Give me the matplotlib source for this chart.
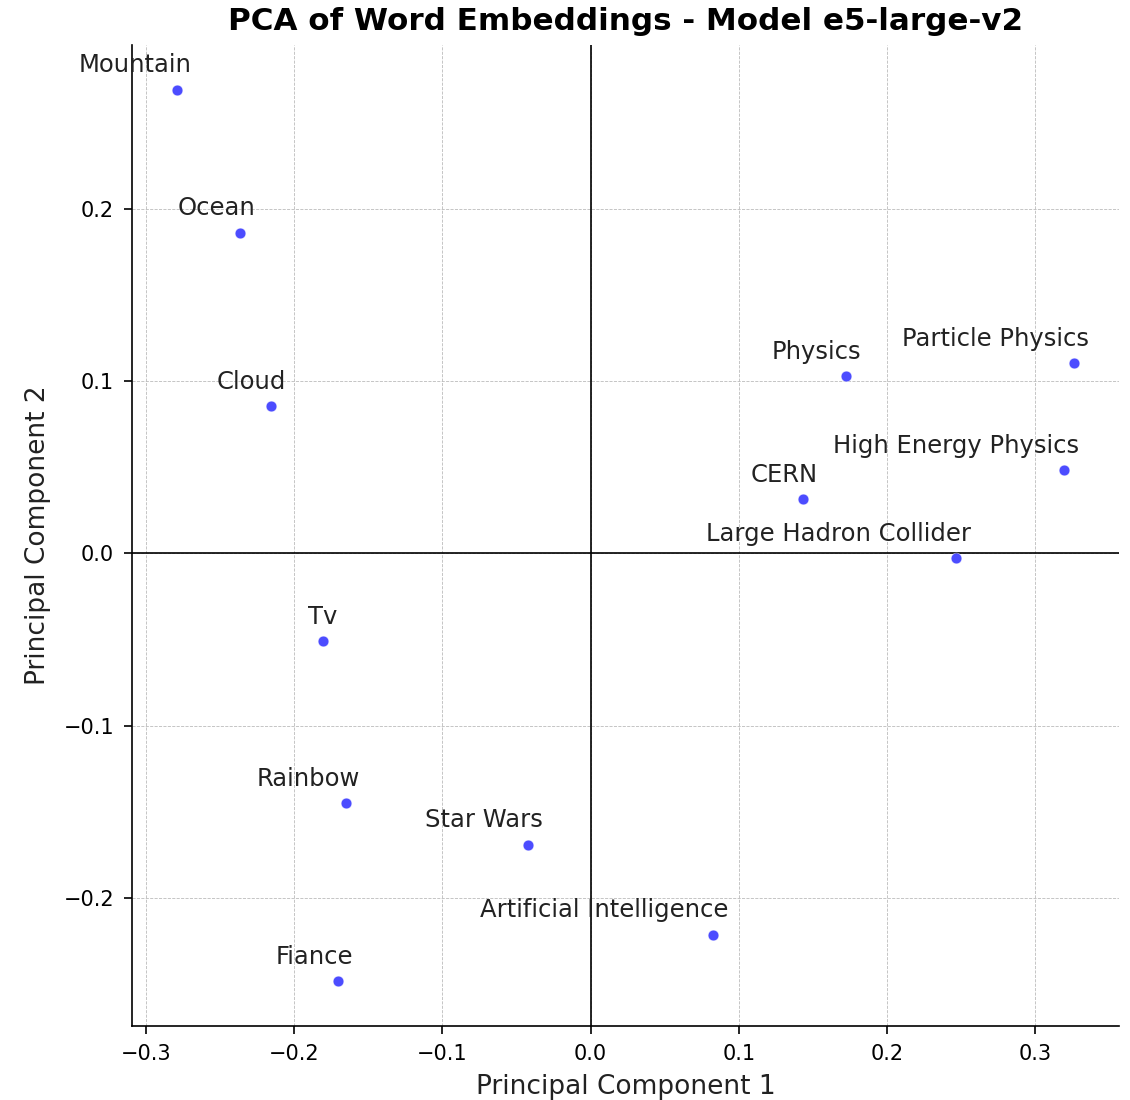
import matplotlib
matplotlib.use("Agg")
import matplotlib.pyplot as plt

words = ["Mountain", "Ocean", "Cloud", "Tv", "Rainbow", "Star Wars", "Fiance",
         "Artificial Intelligence", "Physics", "Particle Physics",
         "High Energy Physics", "CERN", "Large Hadron Collider"]
pc1 = [-0.2790, -0.2363, -0.2156, -0.1806, -0.1653, -0.0421, -0.1705,
       0.0828, 0.1725, 0.3260, 0.3195, 0.1435, 0.2465]
pc2 = [0.2692, 0.1862, 0.0853, -0.0508, -0.1448, -0.1690, -0.2483,
       -0.2213, 0.1029, 0.1106, 0.0483, 0.0314, -0.0025]

fig = plt.figure(figsize=(11.3, 11.0), dpi=100)
ax = fig.add_axes([0.117, 0.0675, 0.873, 0.8915])

ax.scatter(pc1, pc2, s=60, color="blue", alpha=0.7, edgecolors="white", linewidths=0.5, zorder=3)
for w, x, y in zip(words, pc1, pc2):
    ax.text(x + 0.01, y + 0.01, w, ha="right", fontsize=17.5, color="#222222")

ax.axhline(0, color="black", linewidth=1.2, zorder=1)
ax.axvline(0, color="black", linewidth=1.2, zorder=1)
ax.grid(True, linestyle="--", linewidth=0.6, color="#bbbbbb")
ax.set_axisbelow(True)

ax.set_xlabel("Principal Component 1", fontsize=19, color="#222222", labelpad=7)
ax.set_ylabel("Principal Component 2", fontsize=19, color="#222222", labelpad=9)
ax.set_title("PCA of Word Embeddings - Model e5-large-v2", fontsize=22.3, fontweight="bold", pad=11)
ax.tick_params(labelsize=15, length=6, width=1.2, pad=7)
for s in ["top", "right"]:
    ax.spines[s].set_visible(False)
for s in ["left", "bottom"]:
    ax.spines[s].set_linewidth(1.2)

fig.savefig("out.png", dpi=100)
